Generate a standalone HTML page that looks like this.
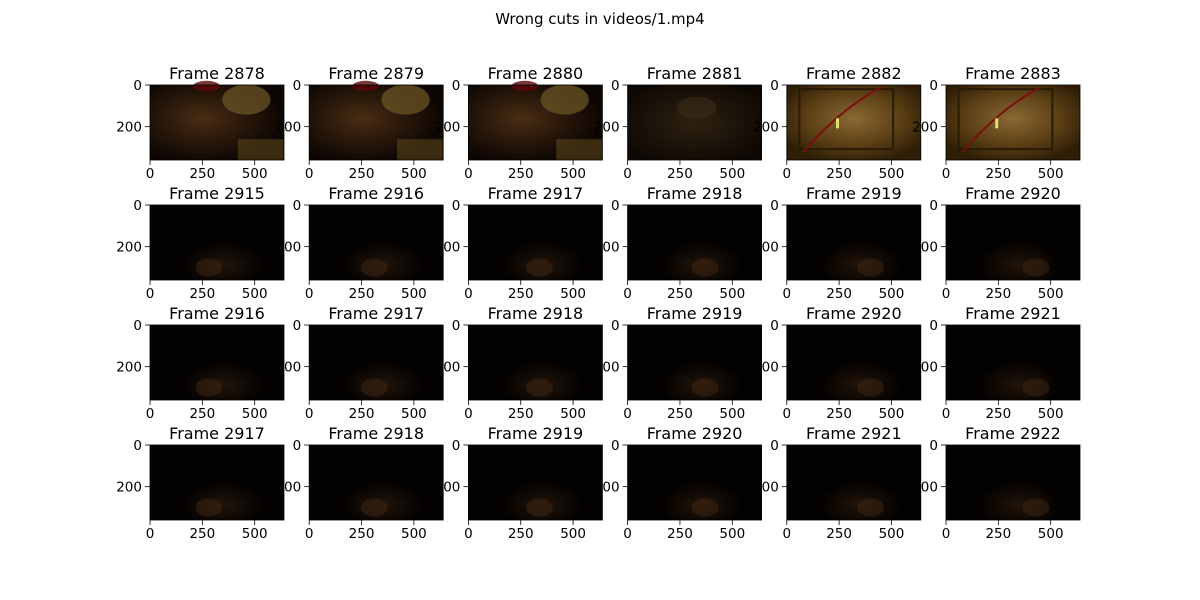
<!DOCTYPE html>
<html><head><meta charset="utf-8"><style>
body{margin:0;background:#fff}
svg{display:block;font-family:"DejaVu Sans","Liberation Sans",sans-serif}
</style></head><body>
<svg id="c" width="1200" height="600">
<defs>
<radialGradient id="gFace" cx="0.4" cy="0.45" r="0.6"><stop offset="0" stop-color="#4a2e14"/><stop offset="0.5" stop-color="#2a180a"/><stop offset="1" stop-color="#0c0603"/></radialGradient>
<radialGradient id="gBed" cx="0.5" cy="0.5" r="0.6"><stop offset="0" stop-color="#2e2010"/><stop offset="1" stop-color="#0e0804"/></radialGradient>
<radialGradient id="gPic" cx="0.5" cy="0.45" r="0.6"><stop offset="0" stop-color="#8a6a34"/><stop offset="0.6" stop-color="#5a3e14"/><stop offset="1" stop-color="#2e1e06"/></radialGradient>
<radialGradient id="gDark" cx="0.55" cy="0.8" r="0.3"><stop offset="0" stop-color="#221409"/><stop offset="1" stop-color="#040201"/></radialGradient>
</defs>
<text x="600" y="24" text-anchor="middle" font-size="15">Wrong cuts in videos/1.mp4</text>
<g id="grid"></g>
</svg>
<script>
const rowFrames = [
  [2878, 2879, 2880, 2881, 2882, 2883],
  [2915, 2916, 2917, 2918, 2919, 2920],
  [2916, 2917, 2918, 2919, 2920, 2921],
  [2917, 2918, 2919, 2920, 2921, 2922]
];
const rowScene = [
  ['face','face','face','bed','pic','pic'],
  ['dark','dark','dark','dark','dark','dark'],
  ['dark','dark','dark','dark','dark','dark'],
  ['dark','dark','dark','dark','dark','dark']
];
const xTicks = [0, 250, 500];
const yTicks = [0, 200];
const imgW = 640, imgH = 360;

const NS = 'http://www.w3.org/2000/svg';
const g = document.getElementById('grid');
function mk(tag, attrs, parent){const e=document.createElementNS(NS,tag);for(const k in attrs)e.setAttribute(k,attrs[k]);parent.appendChild(e);return e;}
const colX0 = 150, colPitch = 159.2, rowY0 = 85, rowPitch = 120, axW = 134, axH = 75;
const fills = {face:'url(#gFace)', bed:'url(#gBed)', pic:'url(#gPic)', dark:'url(#gDark)'};

rowFrames.forEach((row, r) => {
  row.forEach((frame, c) => {
    const x0 = colX0 + c*colPitch, y0 = rowY0 + r*rowPitch;
    const sx = v => x0 + v/imgW*axW;
    const sy = v => y0 + v/imgH*axH;
    const ax = mk('g', {}, g);
    
    
    const scene = rowScene[r][c];
    const im = mk('rect', {x:x0, y:y0, width:axW, height:axH, fill:fills[scene]}, ax);
    
    
    if (scene === 'face') {
      mk('ellipse', {cx:sx(460), cy:sy(70), rx:axW*0.18, ry:axH*0.2, fill:'#6a5424', opacity:0.75}, ax);
      mk('rect', {x:sx(420), y:sy(260), width:axW*0.34, height:axH*0.28, fill:'#6a5020', opacity:0.5}, ax);
      mk('ellipse', {cx:sx(270), cy:sy(5), rx:axW*0.1, ry:axH*0.07, fill:'#5a0808', opacity:0.8}, ax);
    } else if (scene === 'pic') {
      mk('rect', {x:sx(60), y:sy(20), width:axW*0.7, height:axH*0.8, fill:'none', stroke:'#2a1a06', 'stroke-width':2}, ax);
      mk('path', {d:`M${sx(80)} ${sy(320)} Q${sx(250)} ${sy(120)} ${sx(450)} ${sy(10)}`, fill:'none', stroke:'#7a1010', 'stroke-width':2}, ax);
      mk('rect', {x:sx(235), y:sy(160), width:3, height:10, fill:'#e0e070'}, ax);
    } else if (scene === 'bed') {
      mk('ellipse', {cx:sx(330), cy:sy(110), rx:axW*0.15, ry:axH*0.15, fill:'#3a2c18', opacity:0.6}, ax);
    } else {
      mk('ellipse', {cx:sx(280 + c*30), cy:sy(300), rx:axW*0.1, ry:axH*0.12, fill:'#4a2e1a', opacity:0.4}, ax);
    }
    const fr = mk('rect', {x:x0, y:y0, width:axW, height:axH, fill:'none', stroke:'#000', 'stroke-width':0.8}, ax);
    
    
    xTicks.forEach(t => {
      const x = sx(t);
      mk('line', {x1:x, y1:y0+axH, x2:x, y2:y0+axH+5, stroke:'#000', 'stroke-width':0.8}, ax);
      const tl = mk('text', {x:x, y:y0+axH+18, 'text-anchor':'middle', 'font-size':13.5}, ax);
      tl.textContent = t;
      
      
    });
    yTicks.forEach(t => {
      const y = sy(t);
      mk('line', {x1:x0-5, y1:y, x2:x0, y2:y, stroke:'#000', 'stroke-width':0.8}, ax);
      const tl = mk('text', {x:x0-8, y:y+5, 'text-anchor':'end', 'font-size':13.5}, ax);
      tl.textContent = t;
      
      
    });
    const ti = mk('text', {x:x0+axW/2, y:y0-6, 'text-anchor':'middle', 'font-size':16}, ax);
    ti.textContent = 'Frame ' + frame;
    
    
  });
});
</script>
</body></html>
